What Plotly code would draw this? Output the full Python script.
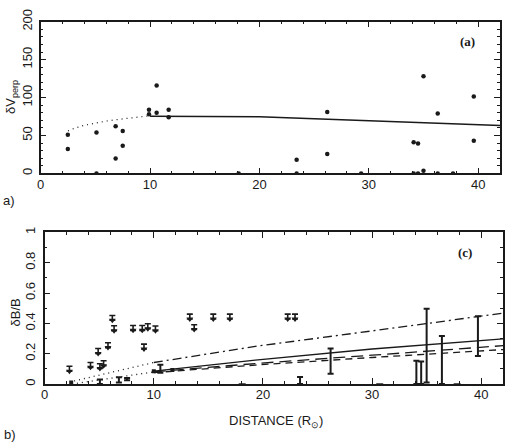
import plotly.graph_objects as go

# ---------- Panel (a): delta V_perp ----------
va_x = [2.48, 2.48, 5.1, 5.1, 6.85, 6.85, 7.5, 7.5, 9.9, 9.9, 10.6, 10.6, 11.7, 11.7, 18.1,
        23.4, 23.4, 26.2, 26.2, 29.3, 34.1, 34.1, 34.5, 34.5, 35.0, 35.0, 36.3, 36.3, 37.7, 39.6, 39.6]
va_y = [51, 32, 54, 0, 62, 19.5, 56, 36.5, 84, 78, 116, 80, 84, 74, 0,
        18, 0, 81, 25.5, 0, 41, 0, 39.5, 0, 128, 3.5, 79, 0, 0, 101.5, 43]

va_dot_x = [2.5, 3, 4, 5, 6, 7, 8, 9, 10]
va_dot_y = [56, 59, 63.5, 66.5, 69, 71, 73, 74.5, 76]
va_sol_x = [10, 15, 20, 25, 30, 35, 42]
va_sol_y = [75.5, 75.3, 74.7, 72, 69.5, 66.5, 63]

# ---------- Panel (c): delta B / B ----------
ul_x = [2.27, 4.2, 4.9, 5.06, 5.4, 5.8, 6.2, 6.36, 8.1, 8.94, 9.1, 9.45, 10.15,
        13.3, 13.7, 15.45, 16.97, 22.27, 22.94]
ul_y = [0.10, 0.125, 0.217, 0.117, 0.136, 0.255, 0.435, 0.367, 0.369, 0.369, 0.246, 0.38, 0.366,
        0.444, 0.374, 0.444, 0.444, 0.444, 0.444]

eb_x = [5.06, 6.8, 7.55, 10.6, 23.4, 26.2, 34.06, 34.5, 35.0, 36.4, 39.7]
eb_lo = [0.0, 0.01, 0.025, 0.075, 0.0, 0.068, 0.0, 0.0, 0.01, 0.0, 0.185]
eb_hi = [0.03, 0.045, 0.04, 0.127, 0.047, 0.234, 0.153, 0.149, 0.497, 0.316, 0.446]

sq_x = [2.43, 10.0, 11.7]
sq_y = [0.01, 0.085, 0.093]

dash_x = [18.1, 30.7, 37.8]
dash_y = [0.0, 0.0, 0.0]

dd_x = [10, 19.3, 30, 42]
dd_y = [0.142, 0.248, 0.35, 0.467]
dd_dot_x = [2.7, 5, 7.5, 10]
dd_dot_y = [0.02, 0.06, 0.10, 0.142]
sol_x = [10, 19.3, 30, 42]
sol_y = [0.085, 0.157, 0.231, 0.297]
lo_dot_x = [2.5, 5, 7.5, 10]
lo_dot_y = [0.0, 0.028, 0.055, 0.08]
ld_x = [10, 19.3, 30, 42]
ld_y = [0.08, 0.135, 0.19, 0.253]
sd_x = [10, 19.3, 30, 42]
sd_y = [0.075, 0.125, 0.175, 0.227]

INK = "#1a1a1a"
W, H = 506, 444

fig = go.Figure()

# panel (a)
fig.add_trace(go.Scatter(x=va_dot_x, y=va_dot_y, mode="lines",
                         line=dict(color=INK, width=1.2, dash="1px,4px"), xaxis="x", yaxis="y"))
fig.add_trace(go.Scatter(x=va_sol_x, y=va_sol_y, mode="lines",
                         line=dict(color=INK, width=1.5), xaxis="x", yaxis="y"))
fig.add_trace(go.Scatter(x=va_x, y=va_y, mode="markers",
                         marker=dict(color=INK, size=4.5), xaxis="x", yaxis="y"))

# panel (c) lines
for xs, ys, d in [(dd_dot_x, dd_dot_y, "1px,4px"), (lo_dot_x, lo_dot_y, "1px,4px"),
                  (dd_x, dd_y, "9px,4px,2px,4px"), (sol_x, sol_y, "solid"),
                  (ld_x, ld_y, "12px,6px"), (sd_x, sd_y, "7px,5px")]:
    fig.add_trace(go.Scatter(x=xs, y=ys, mode="lines",
                             line=dict(color=INK, width=1.3, dash=d), xaxis="x2", yaxis="y2"))

# upper limits: triangle with bar above
fig.add_trace(go.Scatter(x=ul_x, y=[v - 0.015 for v in ul_y], mode="markers",
                         marker=dict(symbol="triangle-down", color=INK, size=6),
                         error_y=dict(type="constant", symmetric=False, value=0.032, valueminus=0,
                                      color=INK, thickness=1.6, width=3),
                         xaxis="x2", yaxis="y2"))

# error bars
fig.add_trace(go.Scatter(x=eb_x, y=[(a + b) / 2 for a, b in zip(eb_lo, eb_hi)], mode="markers",
                         marker=dict(size=1, color="rgba(0,0,0,0)"),
                         error_y=dict(type="data", array=[(b - a) / 2 for a, b in zip(eb_lo, eb_hi)],
                                      color=INK, thickness=2, width=3),
                         xaxis="x2", yaxis="y2"))

fig.add_trace(go.Scatter(x=sq_x, y=sq_y, mode="markers",
                         marker=dict(symbol="square", color=INK, size=4),
                         xaxis="x2", yaxis="y2"))
fig.add_trace(go.Scatter(x=dash_x, y=dash_y, mode="markers",
                         marker=dict(symbol="line-ew", color=INK, size=5, line=dict(width=1.5, color=INK)),
                         xaxis="x2", yaxis="y2", cliponaxis=False))

tickfont = dict(family="Liberation Sans, Arial, sans-serif", size=13, color=INK)
axis_common = dict(showgrid=False, zeroline=False, showline=True, linecolor=INK, linewidth=1.5,
                   mirror="ticks", ticks="inside", ticklen=6, tickwidth=1.2, tickcolor=INK,
                   tickfont=tickfont)
minor_x = dict(dtick=2, ticks="inside", ticklen=3, tickcolor=INK)

fig.update_layout(
    width=W, height=H, margin=dict(l=0, r=0, t=0, b=0),
    paper_bgcolor="white", plot_bgcolor="white", showlegend=False,
    xaxis=dict(domain=[37 / W, 500 / W], range=[0, 42], anchor="y", dtick=10, tick0=0,
               ticklabelstandoff=-2, minor=minor_x, **axis_common),
    yaxis=dict(domain=[1 - 166 / H, 1 - 9 / H], range=[0, 200], anchor="x", dtick=50, tickangle=-90,
               ticklabelstandoff=2,
               minor=dict(dtick=10, ticks="inside", ticklen=3, tickcolor=INK), **axis_common),
    xaxis2=dict(domain=[41 / W, 503 / W], range=[0, 42], anchor="y2", dtick=10, tick0=0,
                ticklabelstandoff=-2, minor=minor_x, **axis_common),
    yaxis2=dict(domain=[1 - 384 / H, 1 - 227 / H], range=[0, 1], anchor="x2", dtick=0.2, tickangle=-90,
                ticklabelstandoff=3,
                minor=dict(dtick=0.1, ticks="inside", ticklen=3, tickcolor=INK), **axis_common),
)

sans = dict(family="Liberation Sans, Arial, sans-serif", size=13, color=INK)
serif = dict(family="Liberation Serif, Times New Roman, serif", size=13, color=INK)

def px_ann(text, x, y, font, angle=0):
    fig.add_annotation(text=text, x=x / W, y=1 - y / H, xref="paper", yref="paper",
                       showarrow=False, font=font, textangle=angle,
                       xanchor="center", yanchor="middle")

px_ann("δV<sub>perp</sub>", 7, 87, sans, -90)
px_ann("δB/B", 12, 310, sans, -90)
px_ann("DISTANCE (R<sub>⊙</sub>)", 274, 423, sans)
px_ann("<b>(a)</b>", 467, 29, serif)
px_ann("<b>(c)</b>", 465, 248, serif)
px_ann("a)", 5, 194, sans)
px_ann("b)", 6, 436, sans)

fig.write_html("out.html")
